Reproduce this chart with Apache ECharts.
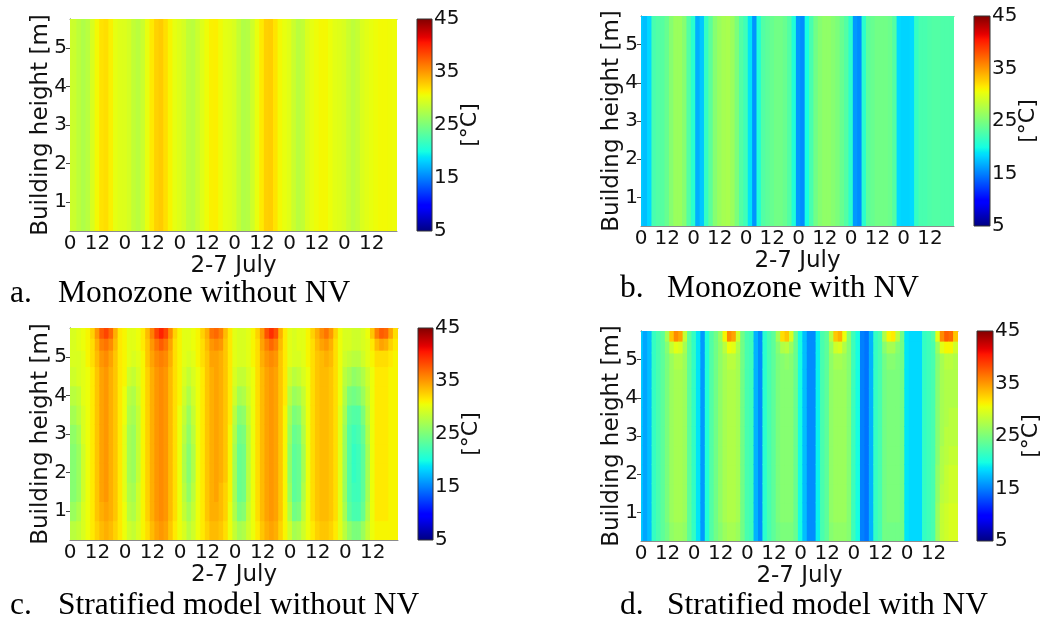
<!DOCTYPE html>
<html><head><meta charset="utf-8">
<script src="https://cdn.jsdelivr.net/npm/echarts@6/dist/echarts.min.js"></script>
<style>html,body{margin:0;padding:0;background:#fff}#c{width:1054px;height:621px}</style>
</head><body><div id="c"></div>
<script>
// ---------- data ----------
const hours = [0,2,4,6,8,10,12,14,16,18,20,22,24,26,28,30,32,34,36,38,40,42,44,46,48,50,52,54,56,58,60,62,64,66,68,70,72,74,76,78,80,82,84,86,88,90,92,94,96,98,100,102,104,106,108,110,112,114,116,118,120,122,124,126,128,130,132,134,136,138,140,142];
const hourTicks = [0,12,24,36,48,60,72,84,96,108,120,132];
const hourTickLabels = ['0','12','0','12','0','12','0','12','0','12','0','12'];
const heightTicks = [1,2,3,4,5];
const colorTicks = [5,15,25,35,45];
const colorRange = [5,45];
const monoHeights = [3.0];   // single well-mixed zone
const stratHeights = [0.5,1.0,1.5,2.0,2.5,3.0,3.5,4.0,4.5,5.0,5.35,5.62];
const panelLetters = ['a.','b.','c.','d.'];
const panelTitles = ['Monozone without NV','Monozone with NV','Stratified model without NV','Stratified model with NV'];

// temperature [°C] per time step
const monoNoNV = [29,28.8,28.2,27.5,28,29.5,30.8,31.8,32,31.2,30.2,29.8,
 29.7,29.3,28.4,28,28.8,30.3,31.5,32.5,32.8,32,31,30.2,
 29.8,29.3,28.3,28,28.8,29.8,30.6,31.2,31.3,30.7,30.1,29.9,
 29.5,28.5,27.6,27.8,29,30.3,31.5,32.6,32.7,31.8,30.8,30.3,
 29.9,28.8,28,28.4,29.6,30.2,30.6,30.9,30.9,30.5,30,29.8,
 29.5,28.8,28.2,28.6,29.6,30,30.3,30.6,30.8,30.8,30.7,30.6];
const monoNV = [18,17.5,18.5,22.5,23,23.2,24,25.5,26.5,26.5,25.5,23,
 21,16.8,17.8,21.5,23.5,25.5,26.5,27,27.2,26.5,25,23,
 22,19,15.8,20.5,23,23.5,24,24.5,24.5,24,23,20.5,
 16,15.5,20,22.5,24.5,25.5,26,26,25.5,25,24,23,
 21,16,15.5,21,23.5,24,24.5,24.5,24.5,24.2,23,18.5,
 18.3,18.3,18.5,21.5,22.5,22.5,22.8,23,23,22.8,22.8,22.8];

// temperature [°C] per time step, each column from bottom (0.5 m) to top (5.62 m)
const stratNoNV = [
 [28,26.5,25.5,25.5,25.5,26,27,28,29,29.5,29.5,29.5],
 [28,26.5,25.5,25.5,25.5,26,27,28,29,29.5,29.5,29.5],
 [28.5,27.5,26.5,26.5,26.5,27,28,28.5,29.5,29.5,30,30],
 [29.5,29.5,29,29,29,29.5,29.5,30,30,30,30.5,30.5],
 [30.5,30.5,30.5,30.5,30.5,30.5,30.5,30.5,30.5,31,31,31],
 [31.5,31.5,31.5,31.5,31.5,31.5,31.5,31.5,31.5,32,32,32.5],
 [32.5,33,33,33,33,33,33,33,33,33.5,34,35],
 [33.5,34,34.5,34.5,34.5,34.5,34.5,34.5,34.5,35,36,37.5],
 [34,34.5,35,35,35,35,35,35,35,35.5,36.5,38.5],
 [33.5,34,34,34,34,34,34,34,34,34.5,35.5,37],
 [32.5,33,33,33,33,33,33,33,33,33,33.5,34],
 [31.5,31.5,31.5,31.5,31.5,31.5,31.5,31.5,31.5,31.5,31.5,31.5],
 [30.5,30.5,30,30,30,30,30.5,30.5,31,31,31,31],
 [29,28,27.5,27,27,27,27.5,28,29,30,30,30],
 [28.5,27.5,27,26.5,26.5,26.5,27,27.5,28.5,29.5,30,30],
 [29.5,29,29,28.5,28.5,28.5,28.5,29,29.5,30,30.5,30.5],
 [31,31,31,31,31,31,31,31,31,31,31.5,31.5],
 [32,32.5,32.5,32.5,32.5,32.5,32.5,32.5,32.5,33,33,33.5],
 [33.5,34,34,34,34,34,34,34,34,34.5,35,36],
 [34.5,35,35,35,35,35,35,35,35,35.5,36.5,38.5],
 [35,35.5,35.5,35.5,35.5,35.5,35.5,35.5,35.5,36,37.5,40],
 [34.5,35,35,35,35,35,35,35,35,35.5,36.5,38.5],
 [33,33.5,33.5,33.5,33.5,33.5,33.5,33.5,33.5,34,34.5,35.5],
 [31.5,32,32,32,32,32,32,32,32,32,32,32.5],
 [30.5,30.5,30.5,30.5,30.5,30.5,30.5,31,31,31,31,31],
 [29.5,28.5,28,27.5,27.5,28,28.5,29,29.5,30,30,30],
 [28,27,26,25.5,25.5,26,26.5,27.5,28.5,29.5,30,30],
 [29,28.5,28,27.5,27.5,28,28.5,29,29.5,30,30.5,30.5],
 [30.5,30.5,30.5,30.5,30.5,30.5,30.5,30.5,30.5,31,31,31],
 [31.5,31.5,31.5,31.5,31.5,31.5,31.5,31.5,31.5,32,32,32.5],
 [32.5,33,33,33,33,33,33,33,33,33,33.5,34],
 [33.5,34,34,34,34,34,34,34,34,34.5,35,36.5],
 [33.5,34,34.5,34.5,34.5,34.5,34.5,34.5,34.5,34.5,35.5,37],
 [33,33.5,33.5,34,34,34,34,34,34,34,35,36],
 [32,32.5,32.5,33,33,33,33,33,33,33,33,33.5],
 [30.5,30.5,31,31,31,31,31.5,31.5,31.5,31.5,31.5,31.5],
 [28.5,27.5,27,27,27,27.5,28,29,29.5,30,30,30],
 [27,25,24,24,24,24.5,25.5,27,28.5,29.5,29.5,29.5],
 [27.5,25.5,24.5,24.5,24.5,25,26,27.5,28.5,29.5,29.5,29.5],
 [29,28.5,28,28,28,28,28.5,29,29.5,30,30,30],
 [30.5,30.5,30.5,30.5,30.5,30.5,30.5,30.5,30.5,31,31,31],
 [31.5,32,32,32,32,32,32,32,32,32,32,32.5],
 [33,33.5,33.5,33.5,33.5,33.5,33.5,33.5,33.5,34,34.5,35],
 [34,34.5,34.5,34.5,34.5,34.5,34.5,34.5,34.5,35,36,38],
 [34.5,35,35,35,35,35,35,35,35,35.5,37,39.5],
 [34,34.5,34.5,34.5,34.5,34.5,34.5,34.5,34.5,35,36,38],
 [32.5,33,33,33,33,33,33,33,33,33,33.5,34],
 [31,31,31,31,31,31,31,31.5,31.5,31.5,31.5,31.5],
 [29,27.5,26.5,26,26,26.5,27,28,29,30,30,30],
 [27,24.5,23.5,23.5,23.5,24,25,26.5,28,29.5,29.5,29.5],
 [27.5,25,24,24,24,24.5,25.5,27,28.5,29.5,30,30],
 [29,28,27.5,27,27,27.5,28,28.5,29.5,30,30,30],
 [30.5,30.5,30.5,30.5,30.5,30.5,30.5,30.5,30.5,31,31,31],
 [31.5,32,32,32,32,32,32,32,32,32,32,32.5],
 [32.5,33,33,33,33,33,33,33,33,33,33.5,34],
 [33,33.5,33.5,33.5,33.5,33.5,33.5,33.5,33.5,33.5,34.5,35.5],
 [33,33.5,33.5,33.5,33.5,33.5,33.5,33.5,33.5,34,35,36.5],
 [32.5,33,33,33,33,33,33,33,33,33.5,34,35],
 [31.5,32,32,32,32,32,32,32,32,32,32,32.5],
 [30,30,30,30,30,30,30,30.5,30.5,30.5,30.5,30.5],
 [28,27,26.5,26.5,26.5,26.5,27,27.5,28,29,29.5,29.5],
 [26,23.5,23,23,23,23,23.5,25,27,28.5,29.5,29.5],
 [25,22.5,22,21.5,21.5,22,23,24.5,26,28,29,29],
 [25,22.5,22,22,22,22.5,23,25,26.5,28,29,29],
 [26.5,24,23.5,23.5,23.5,24,25,26.5,27.5,29,29.5,29.5],
 [28.5,27.5,27,27,27,27.5,28,28.5,29,30,30,30.5],
 [30.5,30.5,30.5,30.5,30.5,30.5,30.5,30.5,30.5,31,31.5,33],
 [31,31.5,31.5,31.5,31.5,31.5,31.5,31.5,31.5,32,33.5,36],
 [31,31.5,31.5,31.5,31.5,31.5,31.5,31.5,31.5,32,34.5,37.5],
 [31,31.5,31.5,31.5,31.5,31.5,31.5,31.5,31.5,32,34,37],
 [31,31,31,31,31,31,31,31,31,31.5,32.5,34.5],
 [31,31,31,31,31,31,31,31,31,31,31.5,32]
];
const stratNV = [
 [18,18,18,18,18,18,18,18,18,18,18,18],
 [16.5,16.5,16.5,16.5,16.5,16.5,16.5,16.5,16.5,16.5,16.5,16.5],
 [17.5,17.5,17.5,17.5,17.5,17.5,17.5,17.5,17.5,17.5,17.5,17.5],
 [21.5,21.5,21.5,21.5,21.5,21.5,21.5,21.5,21.5,21.5,21.5,21.5],
 [22.5,22.5,22.5,22.5,22.5,22.5,22.5,22.5,22.5,22.5,22.5,22.5],
 [23.5,23.5,23.5,23.5,23.5,23.5,23.5,23.5,23.5,23.5,23.5,23.5],
 [24.5,25,25,25,25,25,25,25,25,25,25.5,27],
 [26,26.5,26.5,26.5,26.5,26.5,26.5,26.5,26.5,26.5,28.5,33],
 [26.5,27,27,27,27,27,27,27,27,27.5,30,35.5],
 [26.5,27,27,27,27,27,27,27,27,27.5,29.5,34.5],
 [26,26.5,26.5,26.5,26.5,26.5,26.5,26.5,26.5,26.5,27,28.5],
 [23.5,23.5,23.5,23.5,23.5,23.5,23.5,23.5,23.5,23.5,23.5,23.5],
 [21.5,21.5,21.5,21.5,21.5,21.5,21.5,21.5,21.5,21.5,21.5,21.5],
 [19,19,19,19,19,19,19,19,19,19,19,19],
 [16,16,16,16,16,16,16,16,16,16,16,16],
 [20.5,20.5,20.5,20.5,20.5,20.5,20.5,20.5,20.5,20.5,20.5,20.5],
 [23,23,23,23,23,23,23,23,23,23,23,23],
 [24.5,24.5,24.5,24.5,24.5,24.5,24.5,24.5,24.5,24.5,24.5,24.5],
 [25.5,26,26,26,26,26,26,26,26,26,26,26.5],
 [26.5,27,27,27,27,27,27,27,27,27,28,31],
 [27,27.5,27.5,27.5,27.5,27.5,27.5,27.5,27.5,28,30.5,35.5],
 [27,27.5,27.5,27.5,27.5,27.5,27.5,27.5,27.5,28,30,34.5],
 [26.5,27,27,27,27,27,27,27,27,27,27.5,29],
 [24.5,24.5,24.5,24.5,24.5,24.5,24.5,24.5,24.5,24.5,24.5,24.5],
 [22.5,22.5,22.5,22.5,22.5,22.5,22.5,22.5,22.5,22.5,22.5,22.5],
 [22,22,22,22,22,22,22,22,22,22,22,22],
 [17,17,17,17,17,17,17,17,17,17,17,17],
 [15.5,15.5,15.5,15.5,15.5,15.5,15.5,15.5,15.5,15.5,15.5,15.5],
 [21,21,21,21,21,21,21,21,21,21,21,21],
 [22.5,22.5,22.5,22.5,22.5,22.5,22.5,22.5,22.5,22.5,22.5,22.5],
 [23.5,23.5,23.5,23.5,23.5,23.5,23.5,23.5,23.5,23.5,23.5,23.5],
 [24.5,25,25,25,25,25,25,25,25,25,25.5,27],
 [25,25.5,25.5,25.5,25.5,25.5,25.5,25.5,25.5,25.5,27.5,32],
 [25,25.5,25.5,25.5,25.5,25.5,25.5,25.5,25.5,26,28,33],
 [25,25.5,25.5,25.5,25.5,25.5,25.5,25.5,25.5,25.5,26.5,29.5],
 [24,24,24,24,24,24,24,24,24,24,24,24],
 [20,20,20,20,20,20,20,20,20,20,20,20],
 [17.5,17.5,17.5,17.5,17.5,17.5,17.5,17.5,17.5,17.5,17.5,17.5],
 [15.5,15.5,15.5,15.5,15.5,15.5,15.5,15.5,15.5,15.5,15.5,15.5],
 [15.5,15.5,15.5,15.5,15.5,15.5,15.5,15.5,15.5,15.5,15.5,15.5],
 [19.5,19.5,19.5,19.5,19.5,19.5,19.5,19.5,19.5,19.5,19.5,19.5],
 [22.5,22.5,22.5,22.5,22.5,22.5,22.5,22.5,22.5,22.5,22.5,22.5],
 [23.5,23.5,23.5,23.5,23.5,23.5,23.5,23.5,23.5,23.5,23.5,23.5],
 [25.5,26,26,26,26,26,26,26,26,26,26.5,28],
 [26,26.5,26.5,26.5,26.5,26.5,26.5,26.5,26.5,27,29,33],
 [26,26.5,26.5,26.5,26.5,26.5,26.5,26.5,26.5,27,29.5,34],
 [26,26.5,26.5,26.5,26.5,26.5,26.5,26.5,26.5,26.5,27.5,30.5],
 [25.5,25.5,25.5,25.5,25.5,25.5,25.5,25.5,25.5,25.5,25.5,25.5],
 [22,22,22,22,22,22,22,22,22,22,22,22],
 [20,20,20,20,20,20,20,20,20,20,20,20],
 [15,15,15,15,15,15,15,15,15,15,15,15],
 [14.5,14.5,14.5,14.5,14.5,14.5,14.5,14.5,14.5,14.5,14.5,14.5],
 [17,17,17,17,17,17,17,17,17,17,17,17],
 [21.5,21.5,21.5,21.5,21.5,21.5,21.5,21.5,21.5,21.5,21.5,21.5],
 [22.5,22.5,22.5,22.5,22.5,22.5,22.5,22.5,22.5,22.5,22.5,22.5],
 [24.5,24.5,24.5,24.5,24.5,24.5,24.5,24.5,24.5,24.5,25.5,27.5],
 [24.5,25,25,25,25,25,25,25,25,25.5,27,31],
 [24.5,25,25,25,25,25,25,25,25,25.5,27,31.5],
 [24.5,25,25,25,25,25,25,25,25,25,25.5,28],
 [24.5,24.5,24.5,24.5,24.5,24.5,24.5,24.5,24.5,24.5,24.5,24.5],
 [19,19,19,19,19,19,19,19,19,19,19,19],
 [18.5,18.5,18.5,18.5,18.5,18.5,18.5,18.5,18.5,18.5,18.5,18.5],
 [18.5,18.5,18.5,18.5,18.5,18.5,18.5,18.5,18.5,18.5,18.5,18.5],
 [18.5,18.5,18.5,18.5,18.5,18.5,18.5,18.5,18.5,18.5,18.5,18.5],
 [21.5,21.5,21.5,21.5,21.5,21.5,21.5,21.5,21.5,21.5,21.5,21.5],
 [22,22,22,22,22,22,22,22,22,22,22,22],
 [22.5,22.5,22.5,22.5,22.5,22.5,22.5,22.5,22.5,22.5,22.5,23],
 [26.5,26.5,26,26,25.5,25.5,25.5,25.5,25.5,25.5,26.5,30],
 [28.5,28.5,28,27.5,27.5,27,27,27,27,27,30,35.5],
 [29,29,28.5,28.5,28,28,27.5,27.5,27.5,28,31,37.5],
 [29.5,29.5,29,29,28.5,28,28,27.5,27.5,28,31,37],
 [29.5,29.5,29,29,28.5,28,28,27.5,27.5,27.5,29,33]
];

// ---------- styling / layout ----------
const X_MIN = 0, X_MAX = 143, Y_MIN = 0.25, Y_MAX = 5.75;
const SANS = 'DejaVu Sans', SERIF = 'Liberation Serif', TXT = '#111';
const TICK_FS = 20, TITLE_FS = 23, BAR_FS = 20, CAP_FS = 31.5;
const layout = [
  {grid:{left:70, top:19, width:327, height:212}, bar:{left:417, top:19, width:15, height:212}, cap:[10,58,303]},
  {grid:{left:641, top:16, width:313, height:210}, bar:{left:974, top:16, width:16, height:210}, cap:[620,667,298]},
  {grid:{left:70, top:328, width:328, height:212}, bar:{left:418, top:328, width:15, height:212}, cap:[10,58,615]},
  {grid:{left:641, top:331, width:317, height:210}, bar:{left:977, top:331, width:16, height:210}, cap:[620,667,615]}
];
const panelData = [
  {heights: monoHeights, cols: monoNoNV},
  {heights: monoHeights, cols: monoNV},
  {heights: stratHeights, cols: stratNoNV},
  {heights: stratHeights, cols: stratNV}
];

// matplotlib "jet" colour map
function seg(t, pts){
  for (let i = 1; i < pts.length; i++){
    if (t <= pts[i][0]){
      const a = pts[i-1], b = pts[i];
      return a[1] + (b[1]-a[1]) * (t - a[0]) / (b[0] - a[0]);
    }
  }
  return pts[pts.length-1][1];
}
function jet(t){
  const r = seg(t, [[0,0],[0.35,0],[0.66,1],[0.89,1],[1,0.5]]);
  const g = seg(t, [[0,0],[0.125,0],[0.375,1],[0.64,1],[0.91,0],[1,0]]);
  const b = seg(t, [[0,0.5],[0.11,1],[0.34,1],[0.65,0],[1,0]]);
  return 'rgb(' + Math.round(r*255) + ',' + Math.round(g*255) + ',' + Math.round(b*255) + ')';
}
const jetColors = [];
for (let i = 0; i <= 80; i++) jetColors.push(jet(i/80));
const barStops = [];
for (let i = 0; i <= 80; i++) barStops.push({offset: i/80, color: jet(1 - i/80)});

function edgesOf(H){
  const e = [Y_MIN];
  for (let j = 1; j < H.length; j++) e.push((H[j-1] + H[j]) / 2);
  e.push(Y_MAX);
  return e;
}
function makeRender(H){
  const edges = edgesOf(H);
  return function(params, api){
    const h = api.value(0), j = api.value(3);
    const x0 = Math.max(X_MIN, h - 1), x1 = Math.min(X_MAX, h + 1);
    const p0 = api.coord([x0, edges[j+1]]);
    const p1 = api.coord([x1, edges[j]]);
    return {type:'rect', shape:{x:p0[0]-0.5, y:p0[1]-0.5, width:p1[0]-p0[0]+1, height:p1[1]-p0[1]+1},
      style:{fill: api.visual('color')}};
  };
}

const grids = [], xAxes = [], yAxes = [], series = [], graphics = [];
const frameLine = {show:true, lineStyle:{color:'#8c8c8c', width:1}};
const tickStyle = {color:'#444', width:1};
layout.forEach(function(L){ grids.push(Object.assign({containLabel:false}, L.grid)); });
layout.forEach(function(L){ grids.push(Object.assign({containLabel:false}, L.bar)); });
layout.forEach(function(L, p){
  xAxes.push({gridIndex:p, type:'value', min:X_MIN, max:X_MAX, position:'bottom',
    axisLine:frameLine, splitLine:{show:false},
    axisTick:{show:true, inside:true, length:4, customValues:hourTicks, lineStyle:tickStyle},
    axisLabel:{customValues:hourTicks, margin:3, fontSize:TICK_FS, fontFamily:SANS, color:TXT,
      formatter:function(v){ const i = hourTicks.indexOf(v); return i >= 0 ? hourTickLabels[i] : ''; }},
    name:'2-7 July', nameLocation:'middle', nameGap:22,
    nameTextStyle:{fontSize:TITLE_FS, fontFamily:SANS, color:TXT}});
  xAxes.push({gridIndex:p, type:'value', min:X_MIN, max:X_MAX, position:'top',
    axisLine:frameLine, splitLine:{show:false},
    axisTick:{show:true, inside:true, length:4, customValues:hourTicks, lineStyle:tickStyle},
    axisLabel:{show:false}});
  yAxes.push({gridIndex:p, type:'value', min:Y_MIN, max:Y_MAX, position:'left',
    axisLine:frameLine, splitLine:{show:false},
    axisTick:{show:true, inside:true, length:4, customValues:heightTicks, lineStyle:tickStyle},
    axisLabel:{customValues:heightTicks, margin:3, fontSize:TICK_FS, fontFamily:SANS, color:TXT},
    name:'Building height [m]', nameLocation:'middle', nameRotate:90, nameGap:17, nameMoveOverlap:false,
    nameTextStyle:{fontSize:TITLE_FS, fontFamily:SANS, color:TXT}});
  yAxes.push({gridIndex:p, type:'value', min:Y_MIN, max:Y_MAX, position:'right',
    axisLine:frameLine, splitLine:{show:false},
    axisTick:{show:true, inside:true, length:4, customValues:heightTicks, lineStyle:tickStyle},
    axisLabel:{show:false}});
});
layout.forEach(function(L, p){
  xAxes.push({gridIndex:4+p, type:'value', min:0, max:1, show:false});
  yAxes.push({gridIndex:4+p, type:'value', min:colorRange[0], max:colorRange[1], position:'right',
    axisLine:{show:false}, splitLine:{show:false}, axisTick:{show:false},
    axisLabel:{customValues:colorTicks, margin:2, fontSize:BAR_FS, fontFamily:SANS, color:TXT},
    name:'[°C]', nameLocation:'middle', nameRotate:90, nameGap:27, nameMoveOverlap:false,
    nameTextStyle:{fontSize:22, fontFamily:SANS, color:TXT}});
});

// heat-map series (one per panel)
panelData.forEach(function(P, p){
  const data = [];
  hours.forEach(function(h, i){
    const col = Array.isArray(P.cols[i]) ? P.cols[i] : [P.cols[i]];
    col.forEach(function(v, j){ data.push([h, P.heights[j], v, j]); });
  });
  series.push({type:'custom', xAxisIndex:2*p, yAxisIndex:2*p, clip:true, silent:true,
    dimensions:['hour','height','temp','row'], encode:{x:0, y:1},
    renderItem: makeRender(P.heights), data: data, z:1});
});
// colour bars
layout.forEach(function(L, p){
  series.push({type:'custom', xAxisIndex:8+p, yAxisIndex:8+p, silent:true,
    data:[[0, colorRange[0], colorRange[1]]],
    renderItem:function(params, api){
      const a = api.coord([0, api.value(2)]);
      const b = api.coord([1, api.value(1)]);
      return {type:'rect', shape:{x:a[0], y:a[1], width:b[0]-a[0], height:b[1]-a[1]},
        style:{fill:new echarts.graphic.LinearGradient(0,0,0,1, barStops), stroke:'#333', lineWidth:1}};
    }});
});
// captions
layout.forEach(function(L, p){
  graphics.push({type:'text', style:{x:L.cap[0], y:L.cap[2] + 7, text:panelLetters[p],
    font:CAP_FS + 'px "' + SERIF + '"', fill:'#000', textVerticalAlign:'bottom'}});
  graphics.push({type:'text', style:{x:L.cap[1], y:L.cap[2] + 7, text:panelTitles[p],
    font:CAP_FS + 'px "' + SERIF + '"', fill:'#000', textVerticalAlign:'bottom'}});
});

const chart = echarts.init(document.getElementById('c'), null, {renderer:'canvas'});
chart.setOption({
  animation:false,
  backgroundColor:'#fff',
  grid: grids, xAxis: xAxes, yAxis: yAxes,
  visualMap:{type:'continuous', show:false, min:colorRange[0], max:colorRange[1], dimension:2,
    seriesIndex:[0,1,2,3], inRange:{color: jetColors}},
  series: series,
  graphic: graphics
});
</script></body></html>
